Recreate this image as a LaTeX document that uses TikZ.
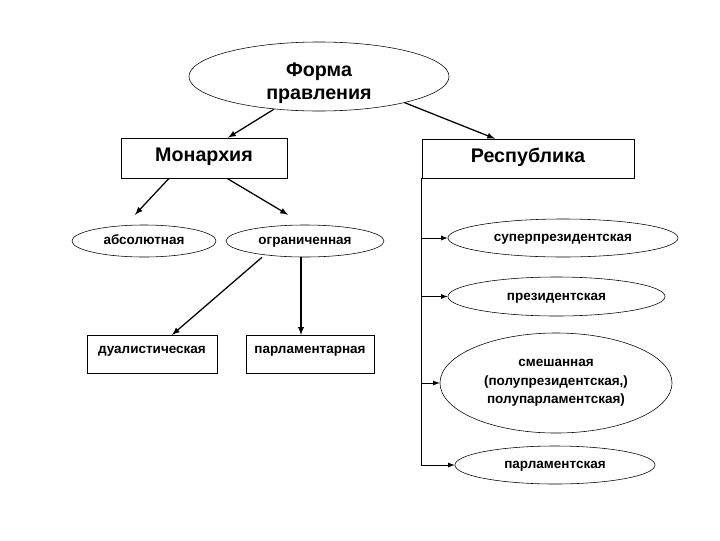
\documentclass[tikz,border=0pt]{standalone}
\usepackage{fontspec}
\setmainfont{Liberation Sans}
\usepackage{tikz}
\usetikzlibrary{shapes,arrows,positioning,calc}

\begin{document}
\begin{tikzpicture}[x=0.025cm,y=-0.025cm,>=latex,
    big/.style={font=\fontsize{14}{16.5}\selectfont\bfseries},
    small/.style={font=\fontsize{9.6}{13}\selectfont\bfseries},
    oneline/.style={text height=0.6em,text depth=0.08em},
    oval/.style={draw,ellipse,line width=0.4pt,inner sep=0pt,align=center},
    box/.style={draw,rectangle,line width=0.5pt,inner sep=0pt},
    link/.style={->,line width=0.9pt},
    branch/.style={->,line width=0.6pt}]
      \useasboundingbox (0,0) rectangle (720,540);

      \node[oval,minimum width=6.5cm,minimum height=1.725cm,
        label={[big,align=center,yshift=-0.175cm]center:Форма\\правления}] (forma) at (319,76.5) {};

      \node[box,big,oneline,minimum width=4.15cm,minimum height=1cm] (monarch) at (204,158) {Монархия};
      \node[box,big,oneline,minimum width=5.3cm,minimum height=0.975cm] (resp) at (528,158.5) {Республика};

      \node[oval,small,oneline,minimum width=3.6cm,minimum height=0.8cm] (absol) at (144,241) {абсолютная};
      \node[oval,small,oneline,minimum width=3.95cm,minimum height=0.8cm] (ogran) at (305,241) {ограниченная};

      \node[box,small,inner sep=3pt,text height=0.34cm,text depth=0.41cm,minimum width=3.25cm] (dual) at (152,354.5) {дуалистическая};
      \node[box,small,inner sep=3pt,text height=0.34cm,text depth=0.41cm,minimum width=3.2cm] (parlam) at (310,354.5) {парламентарная};

      \node[oval,small,oneline,minimum width=5.75cm,minimum height=0.95cm] (super) at (563,238) {суперпрезидентская};
      \node[oval,small,oneline,minimum width=5.425cm,minimum height=0.975cm] (pres) at (556.5,296.5) {президентская};
      \node[oval,small,minimum width=5.8cm,minimum height=2.5cm] (mixed) at (556,383) {смешанная\\(полупрезидентская,)\\полупарламентская)};
      \node[oval,small,oneline,minimum width=5cm,minimum height=0.95cm] (parlsk) at (555,465) {парламентская};

      % from the root
      \draw[link] (forma.216) -- ([xshift=0.6cm]monarch.north);
      \draw[link] (forma.343) -- ([xshift=-0.825cm]resp.north);

      % monarchy
      \draw[link] ([xshift=-0.875cm]monarch.south) -- ([xshift=-0.225cm,yshift=0.25cm]absol.north);
      \draw[link] ([xshift=0.575cm]monarch.south) -- ([xshift=-0.425cm,yshift=0.25cm]ogran.north);
      \draw[link] ([xshift=-1.075cm]ogran.south) -- ([xshift=0.5cm]dual.north);
      \draw[link] ([xshift=-0.1cm]ogran.south) -- ([xshift=-0.1cm]ogran.south |- parlam.north);

      % republic
      \draw[branch] (resp.south west) |- (super.west);
      \draw[branch] (resp.south west) |- (pres.west);
      \draw[branch] (resp.south west) |- (mixed.west);
      \draw[branch] (resp.south west) |- (parlsk.west);
    \end{tikzpicture}
\end{document}
